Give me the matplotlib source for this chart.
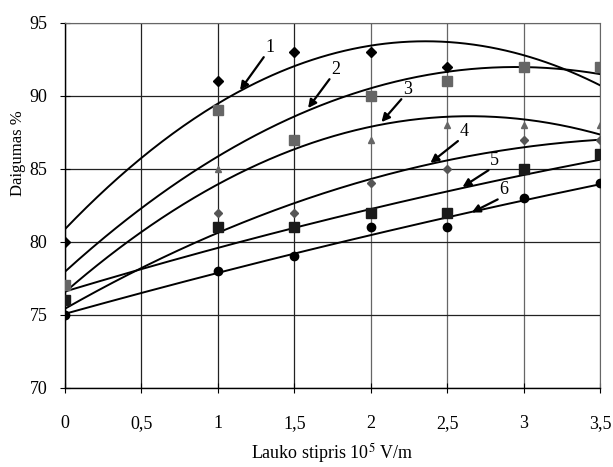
import numpy as np
import matplotlib.pyplot as plt

plt.rcParams['font.family'] = ['Liberation Serif', 'DejaVu Serif']
plt.rcParams['mathtext.fontset'] = 'stix'

# field strength, 10^5 V/m
x1 = [0, 1, 1.5, 2, 2.5, 3, 3.5]
y1 = [80, 91, 93, 93, 92, 92, 92]
x2 = [0, 1, 1.5, 2, 2.5, 3, 3.5]
y2 = [77, 89, 87, 90, 91, 92, 92]
x3 = [0, 1, 1.5, 2, 2.5, 3, 3.5]
y3 = [76, 85, 87, 87, 88, 88, 88]
x4 = [0, 1, 1.5, 2, 2.5, 3, 3.5]
y4 = [75, 82, 82, 84, 85, 87, 87]
x5 = [0, 1, 1.5, 2, 2.5, 3, 3.5]
y5 = [76, 81, 81, 82, 82, 85, 86]
x6 = [0, 1, 1.5, 2, 2.5, 3, 3.5]
y6 = [75, 78, 79, 81, 81, 83, 84]

xticks = [0, 0.5, 1, 1.5, 2, 2.5, 3, 3.5]
xticklabels = ['0', '0,5', '1', '1,5', '2', '2,5', '3', '3,5']

# curve labels: (label, text pos, arrow tip)
labels = ['1', '2', '3', '4', '5', '6']
label_xy = [(1.30, 92.65), (1.73, 91.14), (2.20, 89.77), (2.57, 86.9), (2.77, 84.9), (2.83, 82.9)]
tip_xy = [(1.145, 90.39), (1.59, 89.16), (2.07, 88.2), (2.39, 85.4), (2.60, 83.75), (2.66, 82.0)]

series = [
    (x1, y1, dict(marker='D', ms=5, color='black')),
    (x2, y2, dict(marker='s', ms=7, color='#666666')),
    (x3, y3, dict(marker='^', ms=4, color='#666666')),
    (x4, y4, dict(marker='D', ms=4, color='#555555')),
    (x5, y5, dict(marker='s', ms=6.5, color='#1a1a1a')),
    (x6, y6, dict(marker='o', ms=6, color='black')),
]

fig = plt.figure(figsize=(6.13, 4.67), dpi=100)
ax = fig.add_axes([0.106, 0.170, 0.873, 0.781])

xs = np.linspace(0, 3.5, 200)
for x, y, st in series:
    ax.plot(x, y, ls='none', **st, zorder=3)
    c = np.polyfit(x, y, 2)
    ax.plot(xs, np.polyval(c, xs), color='black', lw=1.4, zorder=2)

for lab, (tx, ty), (px, py) in zip(labels, label_xy, tip_xy):
    ax.annotate('', xy=(px, py), xytext=(tx, ty),
                arrowprops=dict(arrowstyle='-|>', color='black', lw=1.6,
                                mutation_scale=12, shrinkA=0, shrinkB=0))
    ax.text(tx + 0.01, ty + 0.1, lab, fontsize=13, ha='left', va='bottom')

ax.set_xlim(0, 3.5)
ax.set_ylim(70, 95)
ax.set_xticks(xticks)
ax.set_xticklabels(xticklabels)
ax.set_yticks([70, 75, 80, 85, 90, 95])
ax.tick_params(direction='inout', length=7, width=0.8, labelsize=13)
ax.tick_params(axis='x', pad=16)
ax.tick_params(axis='y', pad=9)
ax.grid(True, color='#222222', lw=0.9)
for gl in ax.get_xgridlines()[4:]:
    gl.set_color('#666666')
for s in ['top', 'right']:
    ax.spines[s].set_color('#666666')
for s in ['left', 'bottom']:
    ax.spines[s].set_linewidth(1.0)

ax.set_xlabel(r'Lauko stipris 10$^5$ V/m', fontsize=13, labelpad=7)
ax.set_ylabel('Daigumas %', fontsize=12)
ax.yaxis.set_label_coords(-0.072, 0.643)

fig.savefig('out.png', dpi=100)
